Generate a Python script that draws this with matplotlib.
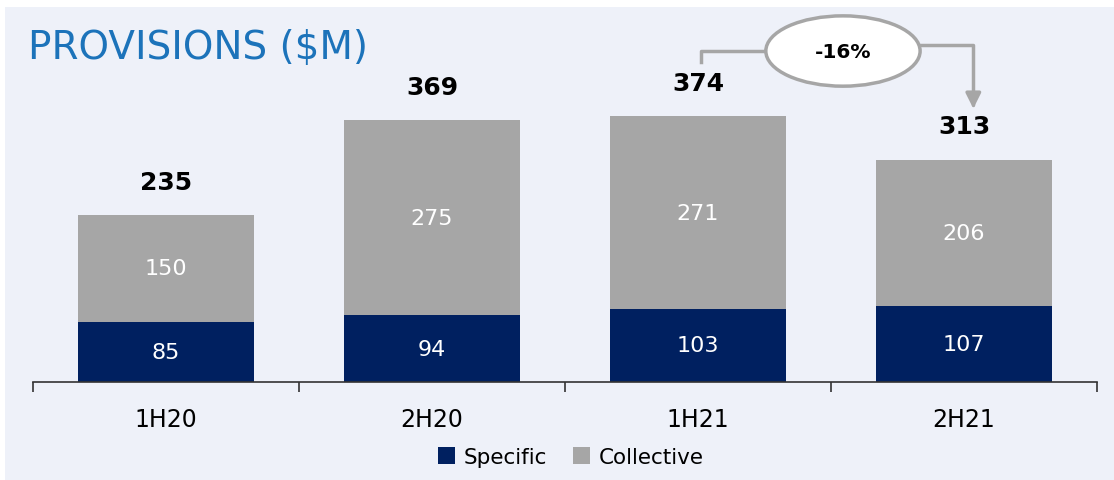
import matplotlib
matplotlib.use("Agg")
import matplotlib.pyplot as plt
from matplotlib.patches import Rectangle, Ellipse

# data
periods = ["1H20", "2H20", "1H21", "2H21"]
specific = [85, 94, 103, 107]
collective = [150, 275, 271, 206]
totals = [235, 369, 374, 313]
change_label = "-16%"

navy = "#002060"
grey = "#A6A6A6"
panel = "#EEF1F9"

plt.rcParams['font.family'] = ['DejaVu Sans']

W, H = 1114, 481
fig = plt.figure(figsize=(W / 100, H / 100), dpi=100)
fig.patch.set_facecolor("white")
fig.patches.append(Rectangle((5 / W, 0), 1, 1 - 8 / H, transform=fig.transFigure,
                             facecolor=panel, edgecolor="none", zorder=-10))

# axes: x 33..1097 px, baseline at y=383 px, top at y=30 px
ax = fig.add_axes([33 / W, (H - 383) / H, (1097 - 33) / W, (383 - 30) / H])
ax.set_facecolor("none")
x = range(len(periods))
ax.bar(x, specific, width=0.665, color=navy, label="Specific", zorder=2)
ax.bar(x, collective, width=0.665, bottom=specific, color=grey, label="Collective", zorder=2)
ax.set_xlim(-0.5, 3.5)
ax.set_ylim(0, 497)

for i in x:
    ax.text(i, specific[i] / 2, str(specific[i]), ha="center", va="center",
            color="white", fontsize=16)
    ax.text(i, specific[i] + collective[i] / 2, str(collective[i]), ha="center",
            va="center", color="white", fontsize=16)
    ax.annotate(str(totals[i]), (i, totals[i]), xytext=(0, 24), textcoords="offset points",
                ha="center", va="center", fontsize=18, fontweight="bold", color="black")

for s in ["top", "right", "left"]:
    ax.spines[s].set_visible(False)
ax.spines["bottom"].set_color("#333333")
ax.spines["bottom"].set_linewidth(1.2)
ax.set_yticks([])
ax.set_xticks(list(x))
ax.set_xticklabels(periods, fontsize=17)
ax.tick_params(axis="x", which="major", length=0, pad=18)
ax.set_xticks([-0.5, 0.5, 1.5, 2.5, 3.5], minor=True)
ax.tick_params(axis="x", which="minor", length=7, width=1.2, color="#333333")

# change annotation between 1H21 and 2H21
ax.plot([2.01, 2.01, 2.27], [451, 466, 466], color=grey, lw=2.5, zorder=3, clip_on=False)
ax.annotate("", xy=(3.035, 385), xytext=(2.82, 475),
            arrowprops=dict(arrowstyle="-|>,head_length=0.9,head_width=0.45", color=grey, lw=2.5,
                            connectionstyle="angle,angleA=0,angleB=90,rad=0",
                            shrinkA=0, shrinkB=0), annotation_clip=False)
ax.add_patch(Ellipse((2.545, 466), 0.58, 99, facecolor="white", edgecolor=grey, lw=2.5,
                     zorder=4, clip_on=False))
ax.text(2.545, 466, change_label, ha="center", va="center", fontsize=14.5,
        fontweight="bold", zorder=5)

fig.text(28 / W, 1 - 48 / H, "PROVISIONS ($M)", color="#1C73BA", fontsize=28,
         ha="left", va="center")

fig.legend(loc="center", bbox_to_anchor=(571 / W, 23 / H), ncol=2, frameon=False,
           fontsize=15.5, handlelength=0.8, handleheight=0.8, handletextpad=0.4,
           columnspacing=1.2)

fig.savefig("out.png", dpi=100)
